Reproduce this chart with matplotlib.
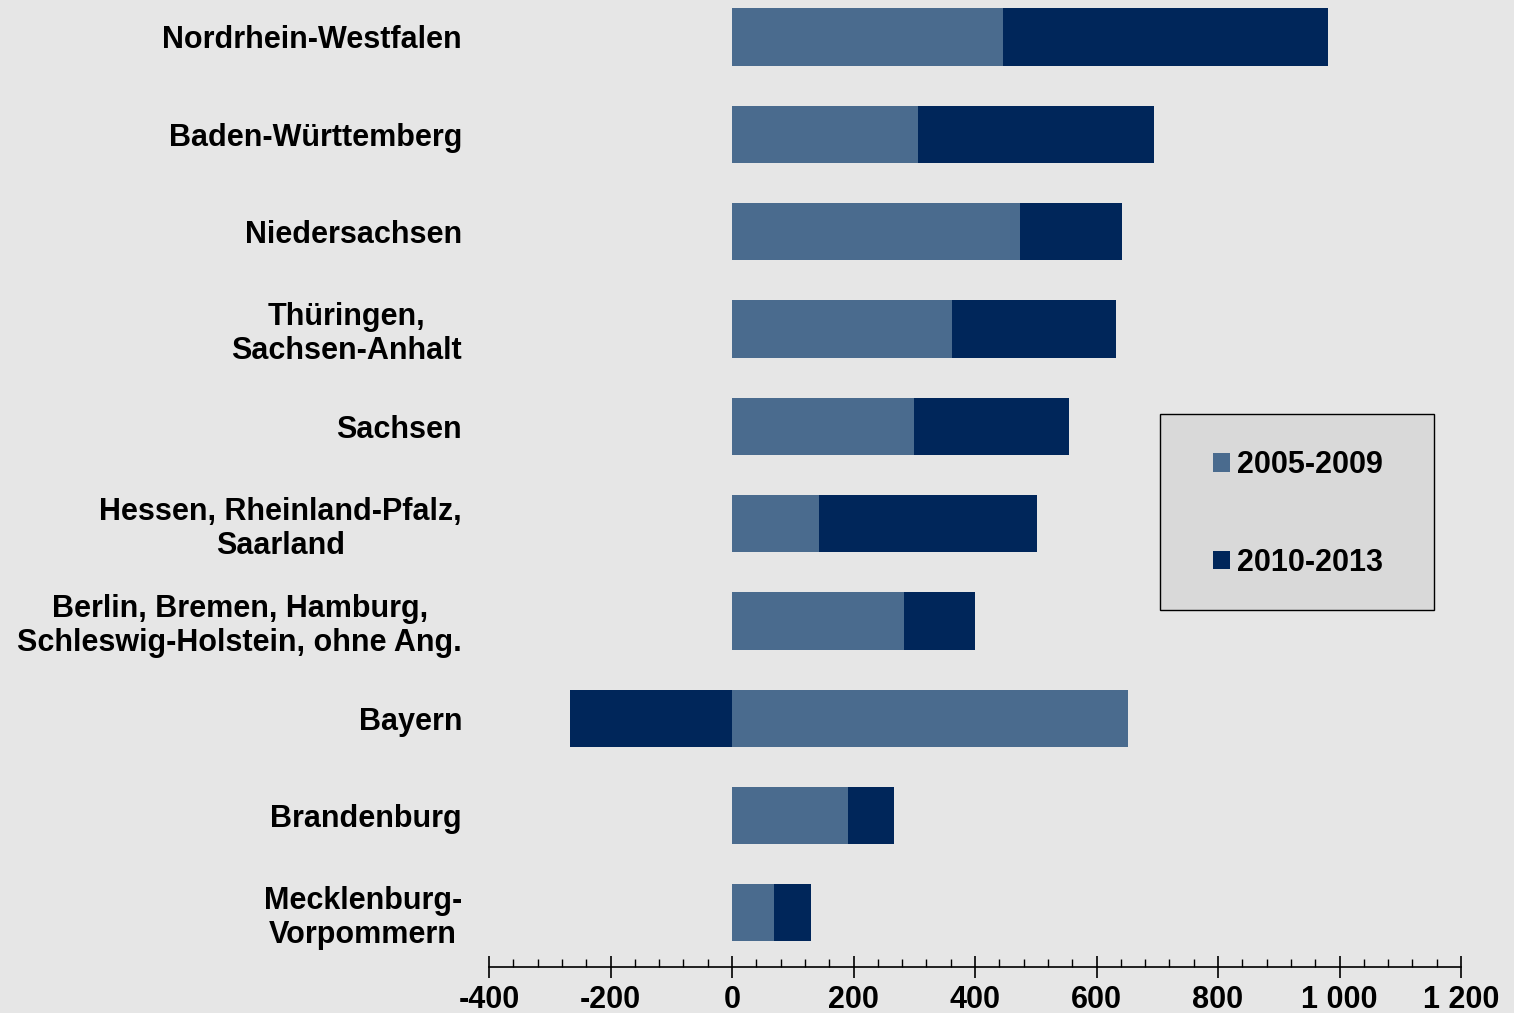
import matplotlib
matplotlib.use("Agg")
import matplotlib.pyplot as plt
import numpy as np
from matplotlib.patches import Rectangle, Patch
from matplotlib.ticker import MultipleLocator, FuncFormatter

plt.rcParams['font.family'] = ['Liberation Sans', 'DejaVu Sans']
plt.rcParams['font.weight'] = 'bold'

laender = ["Nordrhein-Westfalen", "Baden-Württemberg", "Niedersachsen",
           "Thüringen,\nSachsen-Anhalt", "Sachsen",
           "Hessen, Rheinland-Pfalz,\nSaarland",
           "Berlin, Bremen, Hamburg,\nSchleswig-Holstein, ohne Ang.",
           "Bayern", "Brandenburg", "Mecklenburg-\nVorpommern"]
p2005_2009 = [446, 306, 474, 362, 300, 143, 283, 652, 191, 69]
p2010_2013 = [535, 389, 168, 270, 255, 359, 117, -267, 76, 61]
serien = ["2005-2009", "2010-2013"]

c_hell = "#4a6b8e"
c_dunkel = "#00265a"
bg = "#e6e6e6"

fig = plt.figure(figsize=(15.14, 10.13), dpi=100, facecolor=bg)
# Achse bis y=967 px von oben
ax = fig.add_axes([489/1514, 46/1013, (1461-489)/1514, 967/1013])
ax.set_facecolor(bg)

y = np.arange(len(laender))
a = np.array(p2005_2009)
b = np.array(p2010_2013)
# positive Anteile werden gestapelt, negative starten bei 0
left_b = np.where(b >= 0, a, 0)
ax.barh(y, a, height=0.586, color=c_hell, label=serien[0])
ax.barh(y, b, left=left_b, height=0.586, color=c_dunkel, label=serien[1])

ax.set_xlim(-400, 1200)
ax.set_ylim(9.555, -0.38)
ax.set_yticks(y)
ax.set_yticklabels(laender, fontsize=22, fontweight='bold', linespacing=1.15)
for lbl in ax.get_yticklabels():
    lbl.set_multialignment('center')
ax.tick_params(axis='y', length=0, pad=19.4)

ax.xaxis.set_major_locator(MultipleLocator(200))
ax.xaxis.set_minor_locator(MultipleLocator(40))
ax.xaxis.set_major_formatter(FuncFormatter(lambda v, p: f"{int(v):,}".replace(",", " ")))
ax.tick_params(axis='x', which='major', direction='inout', length=16, width=1.2,
               labelsize=22, pad=5)
ax.tick_params(axis='x', which='minor', direction='in', length=6, width=1)
for lbl in ax.get_xticklabels():
    lbl.set_fontweight('bold')

for s in ['top', 'right', 'left']:
    ax.spines[s].set_visible(False)
ax.spines['bottom'].set_linewidth(1.2)

# Legendenkasten
fig.patches.append(Rectangle((1160/1514, 1-610/1013), 274/1514, 196/1013,
                             transform=fig.transFigure, facecolor="#d9d9d9",
                             edgecolor="black", linewidth=1, zorder=2))
handles = [Patch(facecolor=c_hell), Patch(facecolor=c_dunkel)]
fig.legend(handles, serien, loc='center', bbox_to_anchor=(1298/1514, 1-514/1013),
           frameon=False, prop={'size': 22, 'weight': 'bold'},
           handlelength=0.55, handleheight=0.55, handletextpad=0.25,
           labelspacing=2.2)

fig.savefig("out.png", dpi=100, facecolor=bg)
